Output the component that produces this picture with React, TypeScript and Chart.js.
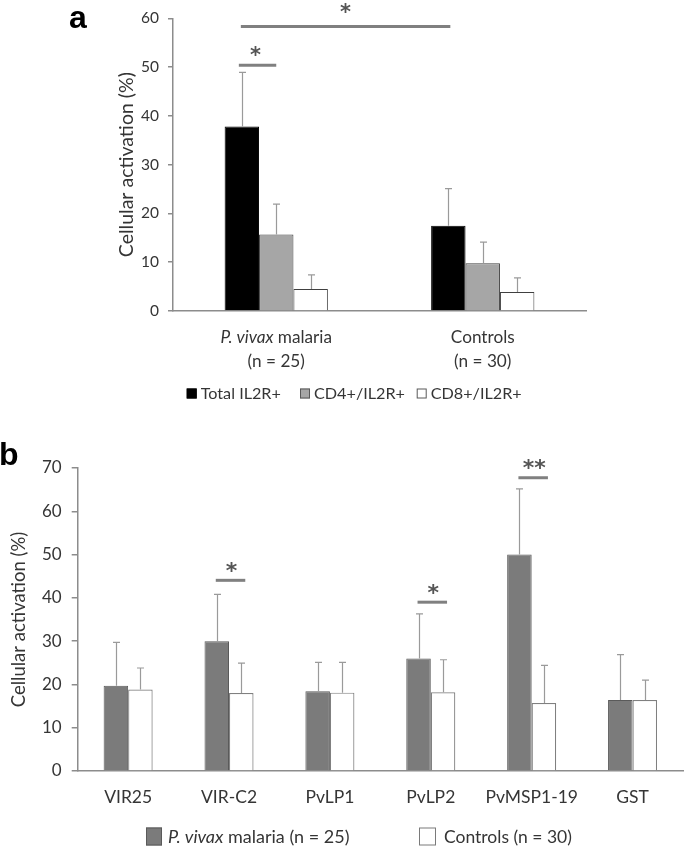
import React, { useEffect, useRef } from "react";
import { Chart, registerables } from "chart.js";

Chart.register(...registerables);

const FONT = "Lato, 'Open Sans', sans-serif";
const STAR_FONT = "'DejaVu Sans', sans-serif";
const TEXT = "#353535";

// ---------- Panel a data ----------
const groupItalicA = ["P. vivax", ""];
const groupRestA = [" malaria", "Controls"];
const groupsA = ["P. vivax malaria", "Controls"];
const groupNA = ["(n = 25)", "(n = 30)"];
const seriesA = ["Total IL2R+", "CD4+/IL2R+", "CD8+/IL2R+"];
const totalA = [37.8, 17.5];
const totalErrA = [11.1, 7.6];
const cd4A = [15.7, 9.8];
const cd4ErrA = [6.2, 4.3];
const cd8A = [4.5, 3.9];
const cd8ErrA = [2.9, 2.9];
const yMinA = 0;
const yMaxA = 60;
const yStepA = 10;
// significance: [dataset, category] from -> to, line value, star value, text
const sigA = [
  { from: [0, 0], to: [0, 1], y: 58.3, starY: 62.1, text: "*" },
  { from: [0, 0], to: [1, 0], y: 50.4, starY: 53.2, text: "*" },
];

// ---------- Panel b data ----------
const antigensB = ["VIR25", "VIR-C2", "PvLP1", "PvLP2", "PvMSP1-19", "GST"];
const seriesB = ["P. vivax malaria (n = 25)", "Controls (n = 30)"];
const malariaB = [19.7, 30.0, 18.4, 26.0, 50.0, 16.4];
const malariaErrB = [10.0, 10.8, 6.7, 10.3, 15.2, 10.5];
const controlsB = [18.8, 18.0, 18.1, 18.2, 15.7, 16.4];
const controlsErrB = [5.0, 6.9, 7.0, 7.5, 8.7, 4.6];
const yMinB = 0;
const yMaxB = 70;
const yStepB = 10;
const sigB = [
  { cat: 1, y: 44.05, starY: 47.1, text: "*" },
  { cat: 3, y: 39.0, starY: 42.0, text: "*" },
  { cat: 4, y: 67.75, starY: 70.9, text: "**" },
];

type Part = { text: string; italic?: boolean };

function capHeight(ctx: CanvasRenderingContext2D, font: string) {
  ctx.save();
  ctx.font = font;
  const h = ctx.measureText("H").actualBoundingBoxAscent;
  ctx.restore();
  return h;
}

function drawRich(
  ctx: CanvasRenderingContext2D,
  parts: Part[],
  x: number,
  cy: number,
  size: number,
  color: string,
  align: "left" | "center"
) {
  ctx.save();
  ctx.fillStyle = color;
  ctx.textBaseline = "alphabetic";
  ctx.textAlign = "left";
  const fonts = parts.map((p) => `${p.italic ? "italic " : ""}${size}px ${FONT}`);
  const widths = parts.map((p, i) => {
    ctx.font = fonts[i];
    return ctx.measureText(p.text).width;
  });
  const total = widths.reduce((a, b) => a + b, 0);
  const ch = capHeight(ctx, fonts[fonts.length - 1]);
  let cx = align === "center" ? x - total / 2 : x;
  const base = cy + ch / 2;
  parts.forEach((p, i) => {
    ctx.font = fonts[i];
    ctx.fillText(p.text, cx, base);
    cx += widths[i];
  });
  ctx.restore();
}

function drawStar(ctx: CanvasRenderingContext2D, text: string, x: number, cy: number, size: number) {
  ctx.save();
  ctx.font = `bold ${size}px ${STAR_FONT}`;
  ctx.fillStyle = "#555555";
  ctx.textAlign = "center";
  ctx.textBaseline = "alphabetic";
  const m = ctx.measureText(text);
  const base = cy + (m.actualBoundingBoxAscent - m.actualBoundingBoxDescent) / 2;
  ctx.fillText(text, x, base);
  ctx.restore();
}

function drawErrorBars(chart: any, errs: number[][], color: string) {
  const ctx = chart.ctx as CanvasRenderingContext2D;
  const yScale = chart.scales.y;
  ctx.save();
  ctx.strokeStyle = color;
  ctx.lineWidth = 1.2;
  errs.forEach((arr, d) => {
    const meta = chart.getDatasetMeta(d);
    const vals = chart.data.datasets[d].data as number[];
    meta.data.forEach((bar: any, i: number) => {
      const yTop = yScale.getPixelForValue(vals[i] + arr[i]);
      const x = Math.round(bar.x) + 0.5;
      ctx.beginPath();
      ctx.moveTo(x, bar.y);
      ctx.lineTo(x, yTop);
      ctx.moveTo(x - 3.5, yTop);
      ctx.lineTo(x + 3.5, yTop);
      ctx.stroke();
    });
  });
  ctx.restore();
}

function sigLine(ctx: CanvasRenderingContext2D, x1: number, x2: number, y: number) {
  ctx.save();
  ctx.strokeStyle = "#808080";
  ctx.lineWidth = 3;
  ctx.beginPath();
  ctx.moveTo(x1, y);
  ctx.lineTo(x2, y);
  ctx.stroke();
  ctx.restore();
}

function legendBox(ctx: CanvasRenderingContext2D, x: number, cy: number, w: number, h: number, fill: string, stroke: string) {
  ctx.save();
  ctx.fillStyle = fill;
  ctx.fillRect(x, cy - h / 2, w, h);
  ctx.strokeStyle = stroke;
  ctx.lineWidth = 1;
  ctx.strokeRect(x + 0.5, cy - h / 2 + 0.5, w - 1, h - 1);
  ctx.restore();
}

const panelAPlugin = {
  id: "panelA",
  afterDatasetsDraw(chart: any) {
    const ctx = chart.ctx as CanvasRenderingContext2D;
    drawErrorBars(chart, [totalErrA, cd4ErrA, cd8ErrA], "#9a9a9a");
    const y = chart.scales.y;
    const offs = [[-1, 2], [-3, 0]];
    sigA.forEach((s, k) => {
      const b1 = chart.getDatasetMeta(s.from[0]).data[s.from[1]];
      const b2 = chart.getDatasetMeta(s.to[0]).data[s.to[1]];
      const x1 = b1.x + offs[k][0];
      const x2 = b2.x + offs[k][1];
      sigLine(ctx, x1, x2, y.getPixelForValue(s.y));
      drawStar(ctx, s.text, (x1 + x2) / 2 - (k === 1 ? 2 : 0), y.getPixelForValue(s.starY), 21);
    });
  },
  afterDraw(chart: any) {
    const ctx = chart.ctx as CanvasRenderingContext2D;
    const x = chart.scales.x;
    groupsA.forEach((_, i) => {
      const cx = x.getPixelForValue(i);
      const parts: Part[] = [];
      if (groupItalicA[i]) parts.push({ text: groupItalicA[i], italic: true });
      parts.push({ text: groupRestA[i] });
      drawRich(ctx, parts, cx, 336, 17.2, TEXT, "center");
      drawRich(ctx, [{ text: groupNA[i] }], cx, 360, 17.2, TEXT, "center");
    });
    // legend
    const ds = chart.data.datasets;
    const boxX = [186.7, 300, 416.7];
    seriesA.forEach((name, i) => {
      legendBox(ctx, boxX[i], 393.5, 10, 10, ds[i].backgroundColor, i === 0 ? "#000" : "#595959");
      drawRich(ctx, [{ text: name }], boxX[i] + 14, 393.5, 16.2, TEXT, "left");
    });
    // panel letter
    ctx.save();
    ctx.font = "bold 32px 'Liberation Sans', Arial, sans-serif";
    ctx.fillStyle = "#000";
    ctx.textBaseline = "alphabetic";
    ctx.fillText("a", 69, 28);
    ctx.restore();
  },
};

const panelBPlugin = {
  id: "panelB",
  afterDatasetsDraw(chart: any) {
    const ctx = chart.ctx as CanvasRenderingContext2D;
    drawErrorBars(chart, [malariaErrB, controlsErrB], "#9a9a9a");
    const y = chart.scales.y;
    sigB.forEach((s) => {
      const b1 = chart.getDatasetMeta(0).data[s.cat];
      const b2 = chart.getDatasetMeta(1).data[s.cat];
      const x1 = b1.x - 1;
      const x2 = b2.x + 4;
      sigLine(ctx, x1, x2, y.getPixelForValue(s.y));
      drawStar(ctx, s.text, (x1 + x2) / 2 + 1, y.getPixelForValue(s.starY), 22);
    });
  },
  afterDraw(chart: any) {
    const ctx = chart.ctx as CanvasRenderingContext2D;
    const x = chart.scales.x;
    antigensB.forEach((name, i) => {
      drawRich(ctx, [{ text: name }], x.getPixelForValue(i), 376.7, 17.5, TEXT, "center");
    });
    const ds = chart.data.datasets;
    const boxX = [146, 419];
    const cy = 416.5;
    legendBox(ctx, boxX[0], cy, 16, 18, ds[0].backgroundColor, "#5a5a5a");
    drawRich(ctx, [{ text: "P. vivax", italic: true }, { text: " malaria (n = 25)" }], boxX[0] + 22, cy, 18, TEXT, "left");
    legendBox(ctx, boxX[1], cy, 17, 18, ds[1].backgroundColor, "#7a7a7a");
    drawRich(ctx, [{ text: seriesB[1] }], boxX[1] + 25, cy, 17.5, TEXT, "left");
    ctx.save();
    ctx.font = "bold 32px 'Liberation Sans', Arial, sans-serif";
    ctx.fillStyle = "#000";
    ctx.textBaseline = "alphabetic";
    ctx.fillText("b", -1, 45);
    ctx.restore();
  },
};

function PanelA() {
  const ref = useRef<HTMLCanvasElement>(null);
  useEffect(() => {
    const chart = new Chart(ref.current!, {
      type: "bar",
      data: {
        labels: groupsA,
        datasets: [
          { label: seriesA[0], data: totalA, backgroundColor: "#000000", borderColor: "#000000", borderWidth: 1 },
          { label: seriesA[1], data: cd4A, backgroundColor: "#a6a6a6", borderColor: "#404040", borderWidth: 1 },
          { label: seriesA[2], data: cd8A, backgroundColor: "#ffffff", borderColor: "#404040", borderWidth: 1 },
        ],
      },
      options: {
        responsive: false,
        animation: false,
        layout: { padding: { left: 111.5, top: 18, right: 99, bottom: 0 } },
        datasets: { bar: { categoryPercentage: 0.5, barPercentage: 1 } },
        plugins: { legend: { display: false }, tooltip: { enabled: false } },
        scales: {
          x: {
            grid: { display: false },
            border: { color: "#8c8c8c", width: 1.5 },
            ticks: { display: false },
            afterFit: (s: any) => {
              s.height = 109;
            },
          },
          y: {
            min: yMinA,
            max: yMaxA,
            ticks: { stepSize: yStepA, color: TEXT, font: { family: FONT, size: 15.5 }, padding: 9 },
            grid: { drawOnChartArea: false, tickLength: 5, color: "#8c8c8c", lineWidth: 1.5 },
            border: { color: "#8c8c8c", width: 1.5 },
            title: { display: true, text: "Cellular activation (%)", color: TEXT, font: { family: FONT, size: 19.5 }, padding: { top: 4, bottom: 4 } },
            afterFit: (s: any) => {
              s.width = 61.5;
            },
          },
        },
      } as any,
      plugins: [panelAPlugin],
    });
    return () => chart.destroy();
  }, []);
  return <canvas ref={ref} width={685} height={420} style={{ display: "block", width: 685, height: 420 }} />;
}

function PanelB() {
  const ref = useRef<HTMLCanvasElement>(null);
  useEffect(() => {
    const chart = new Chart(ref.current!, {
      type: "bar",
      data: {
        labels: antigensB,
        datasets: [
          { label: seriesB[0], data: malariaB, backgroundColor: "#7b7b7b", borderColor: "#5a5a5a", borderWidth: 1 },
          { label: seriesB[1], data: controlsB, backgroundColor: "#ffffff", borderColor: "#808080", borderWidth: 1.2 },
        ],
      },
      options: {
        responsive: false,
        animation: false,
        layout: { padding: { left: 4, top: 48, right: 2, bottom: 0 } },
        datasets: { bar: { categoryPercentage: 0.486, barPercentage: 1 } },
        plugins: { legend: { display: false }, tooltip: { enabled: false } },
        scales: {
          x: {
            grid: { display: false },
            border: { color: "#8c8c8c", width: 1.5 },
            ticks: { display: false },
            afterFit: (s: any) => {
              s.height = 79;
            },
          },
          y: {
            min: yMinB,
            max: yMaxB,
            ticks: { stepSize: yStepB, color: TEXT, font: { family: FONT, size: 17 }, padding: 10 },
            grid: { drawOnChartArea: false, tickLength: 6, color: "#8c8c8c", lineWidth: 1.5 },
            border: { color: "#8c8c8c", width: 1.5 },
            title: { display: true, text: "Cellular activation (%)", color: TEXT, font: { family: FONT, size: 18.5 }, padding: { top: 4, bottom: 4 } },
            afterFit: (s: any) => {
              s.width = 73.7;
            },
          },
        },
      } as any,
      plugins: [panelBPlugin],
    });
    return () => chart.destroy();
  }, []);
  return <canvas ref={ref} width={685} height={430} style={{ display: "block", width: 685, height: 430 }} />;
}

export default function App() {
  return (
    <div style={{ position: "absolute", left: 0, top: 0, width: 685, height: 850, background: "#fff" }}>
      <PanelA />
      <PanelB />
    </div>
  );
}
